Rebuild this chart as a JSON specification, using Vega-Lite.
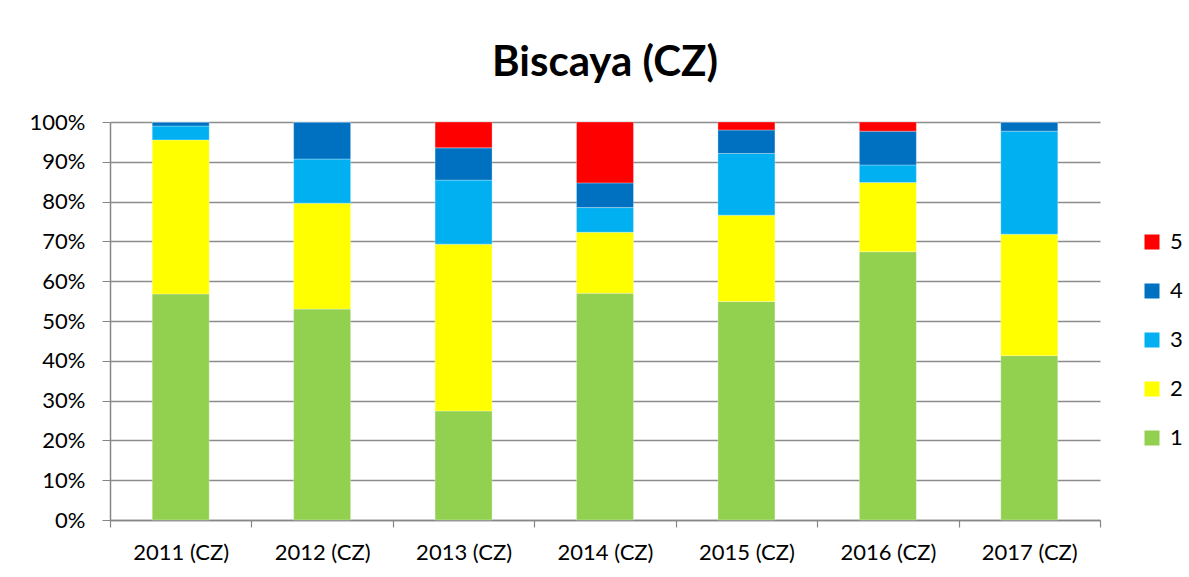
{
  "$schema": "https://vega.github.io/schema/vega-lite/v6.json",
  "width": 990,
  "height": 398,
  "autosize": "none",
  "padding": {"left": 110, "top": 122, "right": 89, "bottom": 57},
  "background": "white",
  "title": {
    "text": "Biscaya (CZ)",
    "font": "Lato",
    "fontSize": 42,
    "fontWeight": "bold",
    "color": "#000000",
    "anchor": "middle",
    "offset": 26
  },
  "data": {
    "values": [
      {"year": "2011 (CZ)", "k": 1, "s": "1", "v": 56.8},
      {"year": "2011 (CZ)", "k": 2, "s": "2", "v": 38.7},
      {"year": "2011 (CZ)", "k": 3, "s": "3", "v": 3.5},
      {"year": "2011 (CZ)", "k": 4, "s": "4", "v": 1.0},
      {"year": "2011 (CZ)", "k": 5, "s": "5", "v": 0.0},
      {"year": "2012 (CZ)", "k": 1, "s": "1", "v": 53.0},
      {"year": "2012 (CZ)", "k": 2, "s": "2", "v": 26.6},
      {"year": "2012 (CZ)", "k": 3, "s": "3", "v": 11.1},
      {"year": "2012 (CZ)", "k": 4, "s": "4", "v": 9.3},
      {"year": "2012 (CZ)", "k": 5, "s": "5", "v": 0.0},
      {"year": "2013 (CZ)", "k": 1, "s": "1", "v": 27.4},
      {"year": "2013 (CZ)", "k": 2, "s": "2", "v": 41.9},
      {"year": "2013 (CZ)", "k": 3, "s": "3", "v": 16.1},
      {"year": "2013 (CZ)", "k": 4, "s": "4", "v": 8.1},
      {"year": "2013 (CZ)", "k": 5, "s": "5", "v": 6.5},
      {"year": "2014 (CZ)", "k": 1, "s": "1", "v": 57.0},
      {"year": "2014 (CZ)", "k": 2, "s": "2", "v": 15.3},
      {"year": "2014 (CZ)", "k": 3, "s": "3", "v": 6.2},
      {"year": "2014 (CZ)", "k": 4, "s": "4", "v": 6.2},
      {"year": "2014 (CZ)", "k": 5, "s": "5", "v": 15.3},
      {"year": "2015 (CZ)", "k": 1, "s": "1", "v": 54.9},
      {"year": "2015 (CZ)", "k": 2, "s": "2", "v": 21.7},
      {"year": "2015 (CZ)", "k": 3, "s": "3", "v": 15.5},
      {"year": "2015 (CZ)", "k": 4, "s": "4", "v": 5.9},
      {"year": "2015 (CZ)", "k": 5, "s": "5", "v": 2.0},
      {"year": "2016 (CZ)", "k": 1, "s": "1", "v": 67.4},
      {"year": "2016 (CZ)", "k": 2, "s": "2", "v": 17.4},
      {"year": "2016 (CZ)", "k": 3, "s": "3", "v": 4.4},
      {"year": "2016 (CZ)", "k": 4, "s": "4", "v": 8.5},
      {"year": "2016 (CZ)", "k": 5, "s": "5", "v": 2.3},
      {"year": "2017 (CZ)", "k": 1, "s": "1", "v": 41.3},
      {"year": "2017 (CZ)", "k": 2, "s": "2", "v": 30.5},
      {"year": "2017 (CZ)", "k": 3, "s": "3", "v": 25.9},
      {"year": "2017 (CZ)", "k": 4, "s": "4", "v": 2.3},
      {"year": "2017 (CZ)", "k": 5, "s": "5", "v": 0.0}
    ]
  },
  "mark": {"type": "bar", "width": {"band": 0.403}, "stroke": "white", "strokeWidth": 0.5, "strokeOpacity": 0.6},
  "encoding": {
    "x": {
      "field": "year",
      "type": "nominal",
      "sort": null,
      "scale": {"paddingInner": 0, "paddingOuter": 0},
      "axis": {
        "title": null,
        "labelAngle": 0,
        "labelFont": "Lato",
        "labelFontSize": 22,
        "labelColor": "#000000",
        "labelPadding": 15,
        "tickBand": "extent",
        "tickSize": 7,
        "tickColor": "#868686",
        "domainColor": "#868686",
        "domainWidth": 1.5,
        "tickWidth": 1.2,
        "grid": false
      }
    },
    "y": {
      "field": "v",
      "type": "quantitative",
      "stack": "normalize",
      "scale": {"domain": [0, 1], "nice": false},
      "axis": {
        "title": null,
        "format": ".0%",
        "values": [0, 0.1, 0.2, 0.3, 0.4, 0.5, 0.6, 0.7, 0.8, 0.9, 1.0],
        "labelFont": "Lato",
        "labelFontSize": 22,
        "labelColor": "#000000",
        "labelPadding": 17,
        "tickSize": 8,
        "tickColor": "#868686",
        "domainColor": "#868686",
        "domainWidth": 1.5,
        "grid": true,
        "gridColor": "#8c8c8c",
        "gridWidth": 1.5
      }
    },
    "color": {
      "field": "s",
      "type": "nominal",
      "scale": {
        "domain": ["5", "4", "3", "2", "1"],
        "range": ["#ff0000", "#0070c0", "#00b0f0", "#ffff00", "#92d050"]
      },
      "legend": {
        "title": null,
        "orient": "none",
        "legendX": 1031,
        "legendY": 109,
        "padding": 0,
        "symbolType": "square",
        "symbolSize": 225,
        "symbolStrokeWidth": 0,
        "labelFont": "Lato",
        "labelFontSize": 22,
        "labelColor": "#000000",
        "labelOffset": 7,
        "rowPadding": 27
      }
    },
    "order": {"field": "k", "type": "quantitative", "sort": "ascending"}
  },
  "config": {"view": {"stroke": null}}
}
